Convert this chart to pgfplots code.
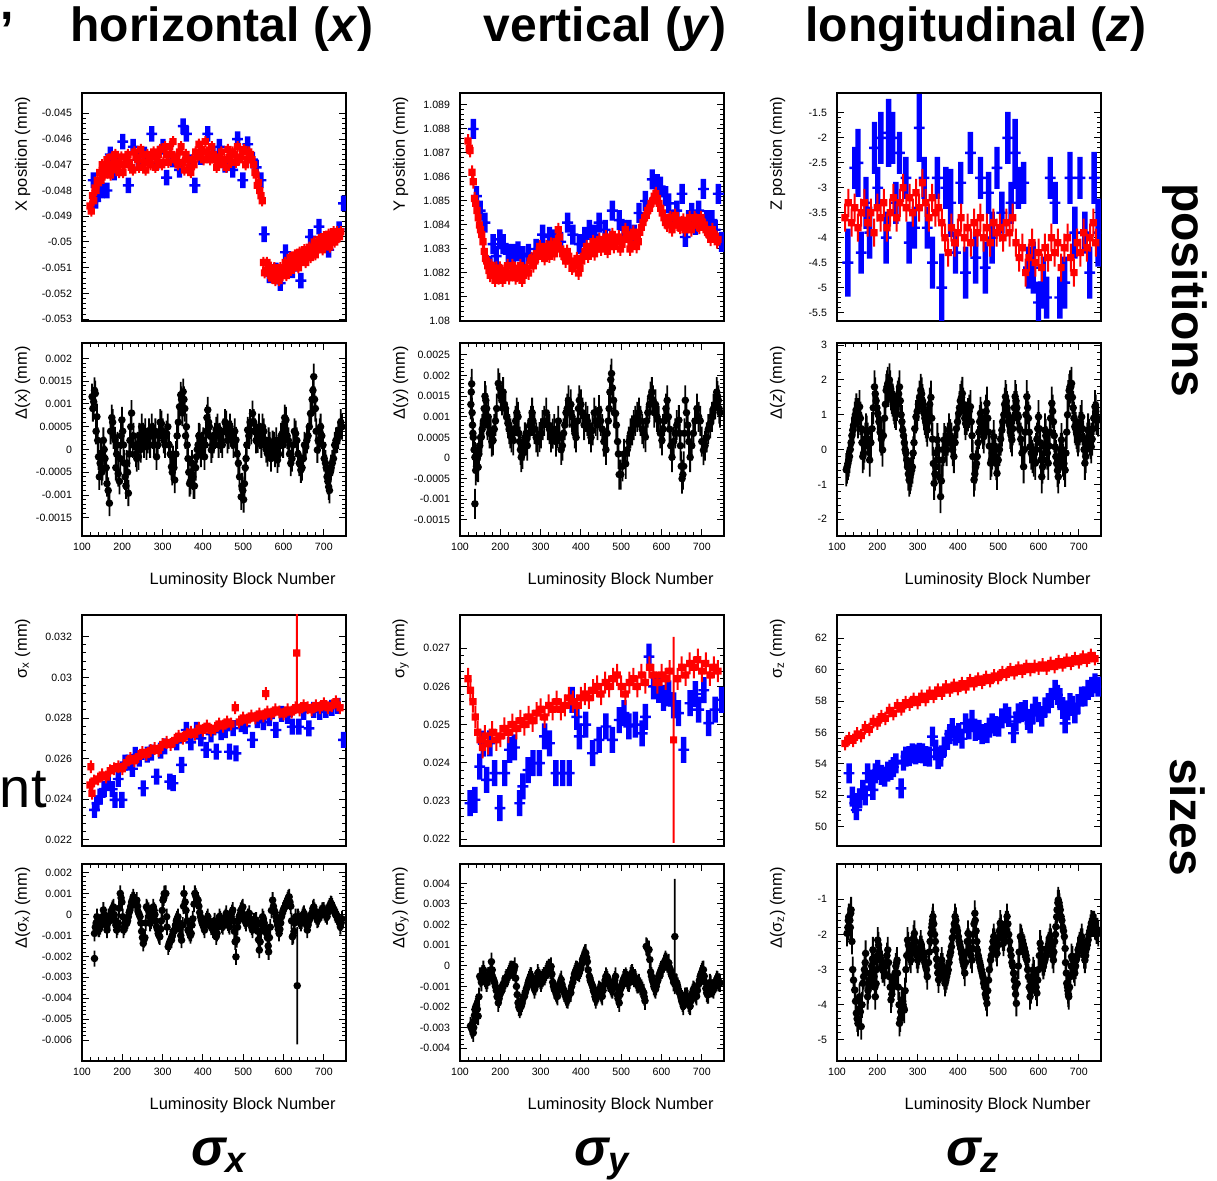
\documentclass[border=0pt]{standalone}
\usepackage{fontspec}
\setmainfont{Liberation Sans}
\usepackage{pgfplots}
\usepackage{pgfplotstable}
\pgfplotsset{compat=1.18}

% ROOT-like markers: the error bar is part of the mark, its half length is the mark size
\pgfdeclareplotmark{rsq}{%
  \pgfpathrectangle{\pgfqpoint{-0.5pt}{-\pgfplotmarksize}}{\pgfqpoint{1pt}{2\pgfplotmarksize}}%
  \pgfpathrectangle{\pgfqpoint{-1.8pt}{-1.8pt}}{\pgfqpoint{3.6pt}{3.6pt}}%
  \pgfusepathqfill}
\pgfdeclareplotmark{bpl}{%
  \pgfpathrectangle{\pgfqpoint{-1.35pt}{-\pgfplotmarksize}}{\pgfqpoint{2.7pt}{2\pgfplotmarksize}}%
  \pgfpathrectangle{\pgfqpoint{-2.7pt}{-0.6pt}}{\pgfqpoint{5.4pt}{1.2pt}}%
  \pgfusepathqfill}
\pgfdeclareplotmark{kdot}{%
  \pgfpathrectangle{\pgfqpoint{-0.45pt}{-\pgfplotmarksize}}{\pgfqpoint{0.9pt}{2\pgfplotmarksize}}%
  \pgfpathcircle{\pgfpointorigin}{1.9pt}%
  \pgfusepathqfill}

\pgfplotsset{
  rootaxis/.style={
    scale only axis, width=132pt, anchor=south west,
    xmin=100, xmax=755,
    minor y tick num=4,
    tick align=inside, major tick length=3.5pt, minor tick length=1.8pt,
    axis line style={line width=0.8pt},
    every tick/.style={black, line width=0.5pt},
    tick label style={font=\fontsize{5.3}{6}\selectfont},
    /pgf/number format/fixed, /pgf/number format/precision=4,
    /pgf/number format/assume math mode=true,
    scaled x ticks=false, scaled y ticks=false,
    clip marker paths=true,
    xticklabel pos=left,
    yticklabel style={xshift=-1.5pt},
    label style={font=\fontsize{8.2}{9}\selectfont, inner sep=0pt},
    ylabel style={at={(axis description cs:-0.225,0.985)}, anchor=east},
    xlabel style={at={(axis description cs:0.962,0)}, anchor=east, yshift=-22pt},
  },
  lumi/.style={xtick={100,200,300,400,500,600,700}, minor x tick num=4,
    xlabel={Luminosity Block Number}},
  redp/.style={only marks, mark=rsq, mark size=#1, color=red},
  bluep/.style={only marks, mark=bpl, mark size=#1, color=blue},
  blackp/.style={only marks, mark=kdot, mark size=#1, color=black},
}

% ---- X position ----
\pgfplotstableread[row sep=\\]{x y\\
120 -0.0486\\126 -0.0482\\132 -0.0479\\138 -0.0476\\144 -0.0473\\150 -0.0470\\156 -0.0474\\162 -0.0468\\168 -0.0472\\174 -0.0467\\
180 -0.0471\\186 -0.0469\\192 -0.0473\\198 -0.0467\\206 -0.0470\\214 -0.0466\\222 -0.0471\\230 -0.0465\\238 -0.0468\\246 -0.0464\\
254 -0.0469\\262 -0.0466\\270 -0.0470\\278 -0.0465\\286 -0.0468\\294 -0.0464\\302 -0.0469\\310 -0.0466\\318 -0.0463\\326 -0.0461\\
334 -0.0467\\342 -0.0465\\350 -0.0469\\358 -0.0466\\366 -0.0471\\374 -0.0468\\382 -0.0465\\390 -0.0462\\398 -0.0464\\406 -0.0461\\
414 -0.0466\\422 -0.0463\\430 -0.0468\\438 -0.0470\\446 -0.0465\\454 -0.0468\\462 -0.0464\\470 -0.0469\\478 -0.0466\\486 -0.0463\\
494 -0.0467\\502 -0.0464\\510 -0.0468\\518 -0.0466\\526 -0.0470\\532 -0.0474\\538 -0.0477\\544 -0.0482\\
550 -0.0508\\556 -0.0511\\562 -0.0509\\568 -0.0513\\574 -0.0511\\580 -0.0515\\586 -0.0512\\592 -0.0510\\598 -0.0513\\604 -0.0508\\
610 -0.0511\\616 -0.0506\\622 -0.0509\\628 -0.0505\\634 -0.0508\\640 -0.0504\\646 -0.0507\\652 -0.0503\\658 -0.0506\\664 -0.0502\\
670 -0.0505\\676 -0.0500\\682 -0.0503\\688 -0.0499\\694 -0.0502\\700 -0.0498\\706 -0.0501\\712 -0.0497\\718 -0.0500\\724 -0.0496\\
730 -0.0499\\736 -0.0497\\742 -0.0496\\
123 -0.0488\\129 -0.0484\\135 -0.0480\\141 -0.0477\\147 -0.0476\\153 -0.0472\\159 -0.0471\\165 -0.0470\\171 -0.0474\\177 -0.0470\\
183 -0.0466\\189 -0.0472\\195 -0.0470\\202 -0.0473\\210 -0.0468\\218 -0.0469\\226 -0.0472\\234 -0.0467\\242 -0.0471\\250 -0.0466\\
258 -0.0472\\266 -0.0468\\274 -0.0467\\282 -0.0471\\290 -0.0466\\298 -0.0470\\306 -0.0463\\314 -0.0469\\322 -0.0466\\330 -0.0468\\
338 -0.0470\\346 -0.0463\\354 -0.0472\\362 -0.0468\\370 -0.0473\\378 -0.0470\\386 -0.0467\\394 -0.0466\\402 -0.0468\\410 -0.0465\\
418 -0.0468\\426 -0.0466\\434 -0.0471\\442 -0.0467\\450 -0.0469\\458 -0.0471\\466 -0.0467\\474 -0.0465\\482 -0.0469\\490 -0.0468\\
498 -0.0465\\506 -0.0470\\514 -0.0465\\522 -0.0468\\529 -0.0473\\535 -0.0478\\541 -0.0480\\547 -0.0484\\
553 -0.0512\\559 -0.0508\\565 -0.0512\\571 -0.0514\\577 -0.0510\\583 -0.0513\\589 -0.0515\\595 -0.0511\\601 -0.0510\\607 -0.0513\\
613 -0.0509\\619 -0.0511\\625 -0.0508\\631 -0.0506\\637 -0.0510\\643 -0.0506\\649 -0.0504\\655 -0.0508\\661 -0.0503\\667 -0.0506\\
673 -0.0502\\679 -0.0505\\685 -0.0501\\691 -0.0500\\697 -0.0503\\703 -0.0500\\709 -0.0498\\715 -0.0502\\721 -0.0498\\727 -0.0500\\
733 -0.0496\\739 -0.0498\\
}\tXr
\pgfplotstableread[row sep=\\]{x y\\
128 -0.0476\\134 -0.0484\\140 -0.0481\\150 -0.0480\\162 -0.0480\\170 -0.0466\\180 -0.0473\\190 -0.0470\\201 -0.0461\\215 -0.0478\\
227 -0.0463\\240 -0.0468\\255 -0.0466\\273 -0.0458\\285 -0.0469\\301 -0.0463\\310 -0.0475\\325 -0.0468\\342 -0.0472\\351 -0.0455\\
359 -0.0458\\370 -0.0469\\380 -0.0478\\395 -0.0467\\412 -0.0458\\425 -0.0466\\441 -0.0463\\455 -0.0470\\474 -0.0472\\486 -0.0460\\
499 -0.0476\\511 -0.0462\\523 -0.0468\\532 -0.0471\\544 -0.0476\\552 -0.0497\\565 -0.0513\\581 -0.0511\\592 -0.0516\\605 -0.0504\\
622 -0.0511\\632 -0.0507\\643 -0.0515\\655 -0.0506\\667 -0.0498\\678 -0.0503\\688 -0.0494\\700 -0.0500\\712 -0.0503\\725 -0.0498\\
738 -0.0495\\749 -0.0485\\
}\tXb

% ---- Y position ----
\pgfplotstableread[row sep=\\]{x y\\
120 1.0875\\125 1.0871\\130 1.0862\\136 1.0851\\142 1.0846\\148 1.0840\\154 1.0836\\160 1.0829\\166 1.0825\\172 1.0821\\
178 1.0823\\184 1.0819\\190 1.0822\\196 1.0818\\202 1.0821\\210 1.0819\\218 1.0823\\226 1.0820\\234 1.0822\\242 1.0819\\
250 1.0823\\258 1.0819\\266 1.0822\\274 1.0825\\282 1.0823\\290 1.0828\\298 1.0831\\306 1.0828\\314 1.0831\\322 1.0827\\
330 1.0830\\338 1.0833\\344 1.0838\\350 1.0830\\358 1.0827\\366 1.0829\\374 1.0825\\382 1.0823\\390 1.0826\\398 1.0822\\
406 1.0827\\414 1.0831\\422 1.0829\\430 1.0833\\438 1.0830\\446 1.0834\\454 1.0832\\462 1.0835\\470 1.0831\\478 1.0836\\
486 1.0833\\494 1.0835\\502 1.0832\\510 1.0838\\518 1.0834\\526 1.0832\\534 1.0835\\542 1.0833\\550 1.0839\\558 1.0843\\
566 1.0846\\574 1.0849\\582 1.0852\\590 1.0851\\598 1.0847\\606 1.0843\\614 1.0840\\622 1.0843\\630 1.0840\\638 1.0842\\
646 1.0839\\654 1.0842\\662 1.0840\\670 1.0843\\678 1.0840\\686 1.0842\\694 1.0839\\702 1.0841\\710 1.0838\\718 1.0836\\
726 1.0838\\734 1.0835\\740 1.0834\\
123 1.0872\\133 1.0858\\139 1.0849\\145 1.0843\\151 1.0838\\157 1.0833\\163 1.0826\\169 1.0823\\175 1.0819\\181 1.0822\\
187 1.0817\\193 1.0820\\199 1.0822\\206 1.0817\\214 1.0821\\222 1.0818\\230 1.0823\\238 1.0818\\246 1.0821\\254 1.0817\\
262 1.0821\\270 1.0820\\278 1.0826\\286 1.0825\\294 1.0827\\302 1.0829\\310 1.0826\\318 1.0829\\326 1.0832\\334 1.0828\\
341 1.0831\\347 1.0835\\354 1.0828\\362 1.0825\\370 1.0827\\378 1.0822\\386 1.0824\\394 1.0820\\402 1.0825\\410 1.0829\\
418 1.0827\\426 1.0831\\434 1.0828\\442 1.0832\\450 1.0830\\458 1.0833\\466 1.0829\\474 1.0834\\482 1.0831\\490 1.0833\\
498 1.0830\\506 1.0834\\514 1.0836\\522 1.0830\\530 1.0837\\538 1.0831\\546 1.0837\\554 1.0841\\562 1.0844\\570 1.0847\\
578 1.0850\\586 1.0853\\594 1.0849\\602 1.0845\\610 1.0841\\618 1.0842\\626 1.0838\\634 1.0844\\642 1.0840\\650 1.0841\\
658 1.0838\\666 1.0841\\674 1.0838\\682 1.0843\\690 1.0840\\698 1.0843\\706 1.0840\\714 1.0837\\722 1.0834\\730 1.0836\\
738 1.0833\\
}\tYr
\pgfplotstableread[row sep=\\]{x y\\
133 1.0880\\141 1.0852\\150 1.0846\\162 1.0841\\174 1.0823\\182 1.0832\\190 1.0827\\199 1.0834\\207 1.0832\\220 1.0828\\
232 1.0828\\244 1.0829\\256 1.0827\\270 1.0828\\289 1.0830\\305 1.0836\\322 1.0835\\335 1.0834\\350 1.0833\\367 1.0841\\
380 1.0836\\396 1.0832\\410 1.0835\\421 1.0838\\433 1.0836\\445 1.0841\\460 1.0838\\478 1.0846\\495 1.0842\\507 1.0838\\
519 1.0838\\532 1.0836\\544 1.0845\\560 1.0850\\577 1.0859\\589 1.0857\\597 1.0856\\610 1.0852\\618 1.0849\\626 1.0842\\
638 1.0846\\651 1.0853\\659 1.0835\\667 1.0842\\675 1.0845\\684 1.0840\\692 1.0846\\704 1.0855\\712 1.0842\\725 1.0842\\
733 1.0838\\741 1.0853\\749 1.0833\\
}\tYb

% ---- Z position ----
\pgfplotstableread[row sep=\\]{x y\\
120 -3.6\\128 -3.3\\136 -3.7\\144 -3.4\\152 -3.8\\160 -3.5\\168 -3.3\\176 -3.7\\184 -3.5\\192 -3.9\\
200 -3.4\\208 -3.6\\216 -3.3\\224 -3.8\\232 -3.5\\240 -3.2\\248 -3.6\\256 -3.3\\264 -3.0\\272 -3.4\\
280 -3.2\\288 -3.5\\296 -3.1\\304 -3.4\\312 -2.9\\320 -3.3\\328 -3.6\\336 -3.2\\344 -3.5\\352 -3.4\\
360 -3.7\\368 -4.0\\376 -4.3\\384 -3.8\\392 -4.1\\400 -3.9\\408 -3.6\\416 -4.0\\424 -3.8\\432 -4.1\\
440 -3.7\\448 -3.9\\456 -3.6\\464 -4.0\\472 -3.8\\480 -4.1\\488 -3.7\\496 -3.9\\504 -3.8\\512 -4.0\\
520 -3.7\\528 -3.9\\536 -3.6\\544 -4.1\\552 -4.4\\560 -4.2\\568 -4.7\\576 -4.4\\584 -4.1\\592 -4.5\\
600 -4.3\\608 -4.6\\616 -4.2\\624 -4.4\\632 -4.0\\640 -4.3\\648 -4.1\\656 -4.6\\664 -4.2\\672 -4.0\\
680 -4.4\\688 -4.7\\696 -4.1\\704 -4.3\\712 -3.9\\720 -4.2\\728 -4.0\\736 -3.7\\742 -4.1\\
}\tZr
% blue z, grouped by the size of the error bar (about 0.4, 0.5 and 0.65 mm)
\pgfplotstableread[row sep=\\]{x y\\
144 -2.6\\160 -4.3\\201 -3.0\\246 -3.3\\255 -2.3\\271 -2.8\\279 -4.1\\292 -3.8\\316 -2.8\\324 -3.8\\
349 -2.8\\370 -3.0\\394 -4.3\\407 -2.9\\431 -2.3\\456 -2.8\\476 -3.1\\497 -2.6\\509 -3.5\\532 -3.3\\
550 -3.0\\563 -2.9\\575 -4.6\\600 -5.3\\620 -5.2\\629 -2.8\\641 -3.3\\653 -5.2\\703 -2.8\\715 -3.9\\
}\tZbA
\pgfplotstableread[row sep=\\]{x y\\
172 -3.3\\181 -3.9\\193 -2.2\\209 -2.0\\222 -4.0\\238 -2.0\\337 -4.5\\419 -4.7\\444 -4.4\\468 -4.6\\
485 -4.0\\524 -2.0\\587 -4.6\\612 -4.9\\665 -4.9\\678 -2.8\\690 -3.9\\727 -4.7\\738 -2.8\\
}\tZbB
\pgfplotstableread[row sep=\\]{x y\\
127 -4.5\\152 -2.5\\228 -1.9\\304 -1.8\\360 -5.0\\382 -3.3\\542 -2.3\\748 -3.9\\
}\tZbC

% ---- Delta x / y / z ----
\pgfplotstableread[row sep=\\]{x y\\
125 0.00116\\129 0.00105\\133 0.00123\\137 0.00072\\141 -0.00016\\145 -0.0003\\149 -0.0005\\153 0.0002\\157 -0.0002\\162 -0.00075\\
168 -0.00118\\174 0.0007\\178 0.0003\\182 0.00021\\186 -0.0001\\190 -0.00053\\195 -0.0002\\199 0.00065\\203 0.0001\\207 -0.0006\\
211 -0.0003\\215 -0.00096\\219 0.0002\\223 0.0008\\228 0.0003\\232 0.00006\\236 -0.0002\\240 -0.00016\\244 0.0002\\248 0.0005\\
254 0.0001\\260 0.00006\\266 0.0004\\273 0.0005\\279 0.0001\\285 -0.00016\\291 0.0003\\297 0.00057\\303 0.0002\\310 0.00035\\
316 0.0001\\322 -0.00038\\326 -0.0002\\330 -0.00067\\336 0.0003\\342 0.00094\\347 0.0011\\351 0.00127\\355 0.0009\\359 0.0005\\
363 -0.0002\\367 -0.00075\\371 -0.0005\\375 -0.0006\\379 -0.0008\\384 -0.00016\\388 0.0001\\392 0.00028\\398 0.0001\\404 -0.00016\\
408 0.0004\\412 0.00087\\416 0.0005\\421 -0.00001\\427 0.0002\\433 0.00043\\439 0.0001\\445 0.00021\\451 0.0004\\458 0.00057\\
464 0.0003\\470 0.00035\\476 0.0001\\482 0.00021\\488 -0.0003\\495 -0.00104\\499 -0.0009\\503 -0.00075\\507 -0.0002\\511 0.00043\\
517 0.0006\\523 0.00079\\529 0.0004\\536 0.00021\\542 0.0003\\548 0.0005\\554 0.0002\\560 -0.00009\\566 0.0001\\573 0.00013\\
579 -0.0001\\585 -0.00023\\591 0.0001\\597 0.00035\\601 0.0004\\606 0.00065\\612 0.0002\\618 -0.0003\\624 0.0001\\630 0.00035\\
636 -0.0001\\643 -0.00045\\649 -0.0002\\655 0.00006\\661 0.0003\\667 0.00079\\671 0.0011\\675 0.0016\\679 0.0009\\684 -0.00001\\
688 0.0002\\692 0.0005\\698 0.0001\\704 -0.0003\\708 -0.0006\\712 -0.00082\\716 -0.0005\\721 -0.0003\\727 0.0001\\733 0.00021\\
739 0.0004\\745 0.0005\\
127 0.0009\\131 0.0013\\135 0.0004\\139 0.0002\\143 -0.0006\\147 -0.0001\\151 -0.0004\\155 0.0\\160 -0.0004\\165 -0.0009\\
171 0.0004\\176 0.0006\\184 -0.0004\\188 0.0001\\193 -0.0007\\197 0.0003\\201 0.0004\\205 -0.0003\\209 -0.0008\\213 -0.0005\\
217 -0.0001\\221 0.0005\\226 0.0001\\234 -0.0001\\238 0.0001\\242 0.0003\\246 0.0\\251 0.0003\\257 0.0004\\263 0.0002\\
269 0.0001\\276 0.0003\\282 0.0004\\288 0.0001\\294 0.0006\\300 0.0004\\306 0.0001\\313 0.0005\\319 -0.0001\\324 -0.0005\\
328 -0.0004\\333 -0.0001\\339 0.0006\\345 0.0012\\349 0.0008\\353 0.0011\\357 0.0003\\361 0.0001\\365 -0.0005\\369 -0.0007\\
373 -0.0003\\377 -0.0008\\382 -0.0004\\386 0.0\\390 0.0003\\395 -0.0001\\401 0.0002\\406 0.0001\\410 0.0007\\414 0.0006\\
418 0.0003\\424 0.0001\\430 0.0003\\436 0.0005\\442 0.0003\\448 0.0001\\455 0.0006\\461 0.0002\\467 0.0005\\473 0.0003\\
479 0.0004\\485 -0.0001\\491 -0.0006\\497 -0.0008\\501 -0.0011\\505 -0.0004\\509 0.0001\\514 0.0003\\520 0.0004\\526 0.0006\\
532 0.0002\\539 0.0005\\545 0.0001\\551 0.0004\\557 0.0\\563 0.0002\\569 -0.0002\\576 0.0001\\582 0.0002\\588 -0.0001\\
594 0.0003\\599 0.0001\\603 0.0007\\609 0.0003\\615 -0.0001\\621 -0.0002\\627 0.0004\\633 0.0002\\639 -0.0003\\646 -0.0004\\
652 0.0001\\658 0.0002\\664 0.0005\\669 0.0008\\673 0.0013\\677 0.0011\\681 0.0004\\686 0.0002\\690 0.0004\\695 0.0003\\
701 -0.0002\\706 -0.0004\\710 -0.0007\\714 -0.0009\\718 -0.0004\\724 -0.0002\\730 0.0002\\736 0.0003\\742 0.0006\\
}\tDx
\pgfplotstableread[row sep=\\]{x y\\
127 0.0013\\129 0.0018\\131 0.0008\\133 0.0005\\137 0.00002\\141 -0.0002\\145 -0.00022\\149 0.0003\\153 0.00051\\158 0.0009\\
162 0.0015\\166 0.0012\\170 0.0010\\176 0.0006\\182 0.00043\\188 0.0009\\195 0.00181\\201 0.0015\\207 0.0016\\213 0.0012\\
219 0.00084\\225 0.0006\\232 0.00043\\238 0.0009\\244 0.0010\\248 0.0004\\252 0.00002\\258 0.0003\\264 0.00043\\270 0.0006\\
276 0.0009\\281 0.0009\\289 0.0005\\297 0.00051\\305 0.0008\\314 0.0011\\322 0.0007\\330 0.00059\\338 0.0004\\344 0.0009\\
351 0.0002\\357 0.0006\\363 0.0011\\369 0.0014\\375 0.0013\\382 0.0008\\388 0.0005\\392 0.0009\\396 0.0014\\404 0.0011\\
412 0.0010\\420 0.0007\\429 0.00067\\437 0.0009\\445 0.00116\\453 0.0007\\462 0.0002\\468 0.0009\\472 0.0016\\476 0.00205\\
481 0.0014\\486 0.00108\\491 0.0004\\495 -0.0004\\503 -0.0002\\511 -0.00014\\519 0.0004\\527 0.00067\\535 0.0009\\544 0.0011\\
552 0.0007\\560 0.00051\\566 0.0011\\573 0.00149\\579 0.0014\\585 0.0013\\593 0.0009\\601 0.00043\\607 0.0009\\614 0.0014\\
620 0.0007\\626 0.00002\\634 0.0006\\643 0.00092\\647 0.0003\\651 -0.0005\\655 -0.0002\\659 0.0014\\665 0.0008\\671 0.00002\\
679 0.0006\\688 0.0012\\696 0.0009\\704 0.00019\\712 0.0005\\721 0.00084\\729 0.0012\\737 0.0016\\741 0.0014\\745 0.0011\\
137 -0.00111\\
128 0.0016\\130 0.0011\\132 0.0006\\135 0.0002\\139 -0.0003\\143 0.0\\147 0.0001\\151 0.0005\\155 0.0007\\160 0.0012\\
164 0.0014\\168 0.0008\\173 0.0006\\179 0.0004\\185 0.0007\\191 0.0012\\198 0.0017\\204 0.0014\\210 0.0013\\216 0.0010\\
222 0.0007\\228 0.0005\\235 0.0007\\241 0.0011\\246 0.0006\\250 0.0002\\255 0.0001\\261 0.0005\\267 0.0003\\273 0.0008\\
279 0.0011\\285 0.0007\\293 0.0004\\301 0.0006\\309 0.0009\\318 0.0008\\326 0.0005\\334 0.0007\\341 0.0006\\347 0.0005\\
354 0.0003\\360 0.0008\\366 0.0012\\372 0.0011\\378 0.0010\\385 0.0006\\394 0.0012\\400 0.0013\\408 0.0008\\416 0.0009\\
425 0.0005\\433 0.0011\\441 0.0008\\449 0.0009\\457 0.0004\\465 0.0006\\470 0.0012\\474 0.0019\\478 0.0017\\483 0.0011\\
488 0.0008\\493 0.0001\\499 -0.0004\\507 0.0001\\515 0.0002\\523 0.0006\\531 0.0008\\540 0.0010\\548 0.0009\\556 0.0006\\
563 0.0009\\570 0.0013\\576 0.0016\\582 0.0011\\589 0.0010\\597 0.0006\\604 0.0007\\611 0.0012\\617 0.0010\\623 0.0003\\
630 0.0004\\638 0.0008\\645 0.0006\\649 -0.0002\\653 -0.0004\\657 0.0006\\662 0.0011\\668 0.0004\\675 0.0003\\683 0.0009\\
692 0.0010\\700 0.0004\\708 0.0003\\716 0.0007\\725 0.0010\\733 0.0013\\739 0.0015\\743 0.0012\\
}\tDy
\pgfplotstableread[row sep=\\]{x y\\
123 -0.58\\127 -0.4\\131 -0.2\\135 0.2\\139 0.56\\144 0.9\\148 1.14\\152 0.8\\156 1.23\\160 0.6\\
164 -0.2\\168 0.1\\172 0.56\\176 0.3\\181 -0.3\\187 0.6\\193 1.8\\197 1.4\\201 1.04\\207 0.5\\
213 -0.01\\218 0.9\\222 1.7\\226 1.9\\230 2.0\\234 1.6\\238 1.42\\242 1.2\\246 1.04\\251 1.5\\
255 1.8\\259 1.0\\263 0.56\\267 0.2\\271 -0.1\\275 -0.5\\279 -0.87\\283 -0.7\\287 -0.5\\291 0.2\\
296 0.94\\302 1.3\\308 1.7\\312 1.4\\316 1.04\\320 0.8\\324 0.56\\328 1.0\\333 1.5\\337 0.3\\
341 -0.97\\345 -0.5\\349 0.28\\353 -0.3\\357 -1.35\\362 -0.3\\366 0.28\\372 0.0\\378 0.56\\384 0.3\\
390 -0.2\\396 0.6\\402 1.04\\406 1.4\\411 1.61\\415 1.1\\419 0.75\\425 1.0\\431 1.23\\435 0.4\\
440 -0.87\\444 -0.5\\448 -0.2\\452 0.5\\456 1.04\\460 0.7\\464 0.37\\468 0.9\\472 1.33\\476 0.5\\
481 -0.39\\485 -0.1\\489 0.37\\493 -0.2\\497 -0.68\\503 0.0\\509 0.56\\514 1.0\\518 1.52\\522 1.2\\
526 0.94\\530 0.5\\534 0.28\\538 0.9\\542 1.52\\546 1.2\\550 0.94\\556 0.3\\563 -0.49\\567 0.5\\
571 1.52\\575 0.9\\579 0.08\\585 -0.2\\592 -0.39\\596 0.3\\600 0.94\\604 0.2\\608 -0.78\\612 -0.3\\
616 0.56\\620 0.2\\624 -0.39\\628 0.5\\633 1.33\\637 0.8\\641 0.08\\645 -0.4\\649 -0.78\\653 -0.2\\
657 0.28\\661 -0.3\\666 -0.59\\670 0.5\\674 1.52\\678 1.8\\682 1.9\\686 1.2\\690 0.66\\694 0.5\\
698 0.28\\702 0.6\\707 0.94\\711 0.3\\715 -0.39\\719 0.1\\723 0.56\\727 0.3\\731 0.08\\735 0.6\\
740 1.23\\744 0.9\\748 0.85\\
125 -0.5\\129 -0.3\\133 0.0\\137 0.4\\141 0.7\\146 1.0\\150 1.0\\154 1.0\\158 0.9\\162 0.2\\
166 -0.1\\170 0.3\\174 0.5\\178 0.1\\184 0.2\\190 1.2\\195 1.6\\199 1.2\\204 0.8\\210 0.3\\
215 0.4\\220 1.3\\224 1.8\\228 1.7\\232 1.8\\236 1.5\\240 1.3\\244 1.1\\249 1.3\\253 1.6\\
257 1.4\\261 0.8\\265 0.4\\269 0.0\\273 -0.3\\277 -0.7\\281 -0.8\\285 -0.6\\289 -0.1\\293 0.6\\
299 1.1\\305 1.5\\310 1.6\\314 1.2\\318 0.9\\322 0.7\\326 0.8\\330 1.3\\335 0.9\\339 -0.4\\
343 -0.7\\347 -0.1\\351 0.0\\355 -0.8\\359 -0.9\\364 0.0\\369 0.2\\375 0.3\\381 0.4\\387 0.0\\
393 0.2\\399 0.8\\404 1.2\\409 1.5\\413 1.3\\417 0.9\\422 0.9\\428 1.1\\433 0.8\\437 -0.2\\
442 -0.7\\446 -0.4\\450 0.2\\454 0.8\\458 0.9\\462 0.5\\466 0.6\\470 1.1\\474 0.9\\478 0.1\\
483 -0.3\\487 0.1\\491 0.1\\495 -0.4\\500 -0.3\\506 0.3\\511 0.8\\516 1.3\\520 1.4\\524 1.0\\
528 0.7\\532 0.4\\536 0.6\\540 1.2\\544 1.4\\548 1.0\\553 0.6\\559 -0.1\\565 0.0\\569 1.0\\
573 1.2\\577 0.5\\582 -0.1\\588 -0.3\\594 0.0\\598 0.6\\602 0.6\\606 -0.3\\610 -0.5\\614 0.1\\
618 0.4\\622 -0.1\\626 0.1\\630 0.9\\635 1.1\\639 0.4\\643 -0.2\\647 -0.6\\651 -0.5\\655 0.0\\
659 0.0\\663 -0.4\\668 -0.1\\672 1.0\\676 1.7\\680 1.8\\684 1.5\\688 0.9\\692 0.6\\696 0.4\\
700 0.4\\704 0.8\\709 0.6\\713 0.0\\717 -0.2\\721 0.3\\725 0.4\\729 0.2\\733 0.3\\737 0.9\\
742 1.1\\746 0.9\\
}\tDz

% ---- sigma x / y / z ----
\pgfplotstableread[row sep=\\]{x y\\
120 0.0247\\122 0.0256\\125 0.0243\\130 0.0249\\140 0.0250\\150 0.0252\\160 0.0251\\170 0.0254\\180 0.0255\\190 0.0256\\
200 0.0255\\210 0.0258\\220 0.0260\\230 0.0259\\240 0.0261\\250 0.0263\\260 0.0262\\270 0.0264\\280 0.0265\\290 0.0264\\
300 0.0267\\310 0.0268\\320 0.0267\\330 0.0269\\340 0.0271\\350 0.0270\\360 0.0272\\370 0.0273\\380 0.0272\\390 0.0275\\
400 0.0274\\410 0.0276\\420 0.0274\\430 0.0275\\440 0.0277\\450 0.0276\\460 0.0278\\470 0.0277\\480 0.0285\\490 0.0278\\
500 0.0280\\510 0.0279\\520 0.0281\\530 0.0280\\540 0.0282\\550 0.0281\\556 0.0292\\560 0.0283\\570 0.0282\\580 0.0284\\
590 0.0283\\600 0.0282\\610 0.0284\\620 0.0283\\630 0.0285\\640 0.0284\\650 0.0286\\660 0.0285\\670 0.0284\\680 0.0286\\
690 0.0285\\700 0.0287\\710 0.0285\\720 0.0286\\730 0.0288\\740 0.0285\\
}\tSXr
\pgfplotstableread[row sep=\\]{x y\\
131 0.02348\\137 0.0238\\145 0.02413\\155 0.0245\\165 0.0248\\175 0.0245\\182 0.02397\\190 0.0250\\199 0.02397\\207 0.0258\\
215 0.0258\\225 0.0255\\232 0.02618\\242 0.0260\\252 0.02454\\262 0.0262\\272 0.0263\\285 0.02511\\295 0.0264\\305 0.0266\\
318 0.02487\\326 0.02479\\335 0.0268\\347 0.02569\\359 0.02741\\370 0.0268\\384 0.02741\\395 0.0270\\408 0.02643\\420 0.0272\\
433 0.02634\\445 0.0273\\455 0.0274\\466 0.02634\\475 0.0275\\482 0.02626\\495 0.0277\\505 0.0276\\523 0.02692\\535 0.0279\\
550 0.0278\\565 0.0280\\581 0.02741\\595 0.0282\\610 0.0281\\622 0.02757\\638 0.02757\\650 0.0283\\663 0.02749\\675 0.0284\\
690 0.0283\\705 0.0284\\720 0.0285\\735 0.0286\\749 0.02692\\
}\tSXb
\pgfplotstableread[row sep=\\]{x y\\
120 0.0262\\126 0.0259\\132 0.0256\\138 0.0252\\144 0.0248\\150 0.0246\\156 0.0244\\162 0.0247\\170 0.0245\\180 0.0248\\
190 0.0246\\200 0.0247\\210 0.0249\\220 0.0248\\230 0.0250\\240 0.0249\\250 0.0251\\260 0.0250\\270 0.0252\\280 0.0251\\
290 0.0253\\300 0.0254\\310 0.0252\\320 0.0255\\330 0.0254\\340 0.0256\\350 0.0254\\360 0.0255\\370 0.0257\\380 0.0256\\
390 0.0255\\400 0.0257\\410 0.0258\\420 0.0257\\430 0.0259\\440 0.0260\\450 0.0258\\460 0.0261\\470 0.0260\\480 0.0262\\
490 0.0263\\500 0.0260\\510 0.0258\\520 0.0261\\530 0.0262\\540 0.0260\\550 0.0263\\560 0.0261\\570 0.0265\\580 0.0263\\
590 0.0261\\600 0.0263\\610 0.0262\\620 0.0264\\640 0.0262\\650 0.0265\\660 0.0263\\670 0.0266\\680 0.0265\\690 0.0267\\
700 0.0264\\710 0.0266\\720 0.0263\\730 0.0265\\740 0.0264\\
}\tSYr
\pgfplotstableread[row sep=\\]{x y\\
125 0.02294\\137 0.02303\\149 0.0239\\158 0.0245\\166 0.02355\\174 0.02451\\186 0.02373\\199 0.02281\\211 0.02373\\223 0.02434\\
235 0.0244\\248 0.02294\\256 0.02338\\269 0.02381\\281 0.02399\\297 0.02399\\310 0.02469\\322 0.02451\\338 0.02373\\355 0.02373\\
371 0.02373\\378 0.02565\\390 0.0252\\396 0.02469\\412 0.0250\\429 0.02425\\445 0.0246\\462 0.02495\\478 0.0246\\495 0.02512\\
507 0.0253\\519 0.02495\\535 0.0250\\552 0.02477\\560 0.0252\\569 0.02678\\580 0.0260\\593 0.02591\\605 0.0257\\618 0.02582\\
630 0.0255\\642 0.0253\\655 0.02434\\671 0.02556\\684 0.0258\\692 0.02539\\705 0.0259\\717 0.02504\\733 0.02539\\749 0.02565\\
}\tSYb
\pgfplotstableread[row sep=\\]{x y\\
120 55.3\\130 55.6\\140 55.5\\150 55.9\\160 55.8\\170 56.3\\180 56.2\\190 56.7\\200 56.6\\210 57.0\\
220 56.9\\230 57.4\\240 57.2\\250 57.7\\260 57.5\\270 57.9\\280 57.8\\290 58.1\\300 57.9\\310 58.3\\
320 58.1\\330 58.5\\340 58.3\\350 58.7\\360 58.5\\370 58.9\\380 58.7\\390 59.0\\400 58.8\\410 59.1\\
420 58.9\\430 59.3\\440 59.1\\450 59.4\\460 59.2\\470 59.5\\480 59.3\\490 59.6\\500 59.5\\510 59.8\\
520 59.7\\530 60.0\\540 59.8\\550 60.1\\560 59.9\\570 60.2\\580 60.0\\590 60.2\\600 60.1\\610 60.3\\
620 60.1\\630 60.4\\640 60.2\\650 60.5\\660 60.3\\670 60.6\\680 60.4\\690 60.7\\700 60.5\\710 60.8\\
720 60.6\\730 60.9\\740 60.7\\
}\tSZr
\pgfplotstableread[row sep=\\]{x y\\
130 53.40\\138 51.91\\144 51.5\\148 51.06\\156 51.8\\164 52.34\\170 52.0\\176 53.40\\183 53.0\\189 52.34\\
195 53.4\\201 53.61\\210 53.3\\218 53.19\\226 53.5\\234 53.61\\240 53.8\\246 54.03\\259 52.44\\265 54.2\\
271 54.46\\279 54.5\\287 54.67\\295 54.6\\304 54.7\\312 54.67\\320 54.5\\329 54.46\\337 55.73\\345 54.9\\
351 54.3\\357 54.46\\366 55.1\\374 55.52\\380 55.9\\386 56.27\\394 55.8\\402 55.95\\410 55.6\\419 56.58\\
427 56.2\\435 56.80\\443 56.1\\452 56.16\\460 55.9\\472 55.95\\478 56.3\\485 56.58\\493 56.4\\501 56.37\\
509 56.9\\518 57.22\\526 57.0\\538 55.95\\544 56.7\\550 57.22\\558 57.3\\567 57.43\\573 56.8\\579 56.58\\
586 57.2\\592 57.65\\600 57.3\\608 57.01\\616 57.6\\624 57.86\\632 58.2\\641 58.71\\647 58.4\\653 58.18\\
660 57.5\\666 56.58\\672 57.4\\678 57.86\\684 57.7\\690 57.22\\698 57.8\\707 58.28\\715 58.3\\723 58.71\\
732 58.9\\740 59.13\\748 58.92\\
}\tSZb

% ---- Delta sigma x / y / z ----
\pgfplotstableread[row sep=\\]{x y\\
131 -0.0021\\131 -0.0009\\135 -0.0004\\137 -0.0001\\141 -0.0007\\145 -0.00058\\149 -0.0002\\153 0.00022\\158 -0.0003\\162 -0.00074\\
166 -0.0001\\170 -0.0001\\174 0.0002\\178 0.00037\\182 -0.0003\\186 -0.00074\\190 -0.0004\\195 0.00101\\199 0.0006\\203 -0.00074\\
207 -0.0005\\211 -0.00042\\215 -0.0001\\219 0.00022\\223 0.0006\\227 0.00085\\232 0.0005\\236 0.00069\\240 0.0001\\244 -0.0001\\
248 -0.0008\\252 -0.00138\\256 -0.0011\\260 0.00037\\265 0.0002\\269 -0.00042\\273 -0.0001\\277 0.00037\\281 0.0\\285 -0.00058\\
289 -0.0009\\293 -0.00106\\297 -0.0003\\301 0.00069\\304 0.0010\\308 0.00101\\311 -0.0006\\314 -0.00154\\318 -0.0013\\322 -0.00122\\
326 -0.0008\\330 -0.00074\\334 -0.0003\\338 -0.0001\\343 -0.0007\\347 -0.00122\\350 -0.0005\\353 0.00101\\358 0.0002\\363 -0.00074\\
367 -0.0009\\371 -0.0009\\375 -0.0002\\380 0.00101\\384 0.0008\\388 0.00069\\392 0.0001\\396 -0.00026\\400 -0.0005\\404 -0.00074\\
408 -0.0003\\412 -0.0001\\418 -0.0004\\425 -0.00074\\429 -0.0003\\433 -0.00106\\437 -0.0006\\441 -0.0001\\445 -0.0003\\449 -0.00058\\
454 -0.0002\\458 0.00006\\462 -0.0004\\466 -0.00058\\470 -0.0001\\474 0.00022\\478 -0.0008\\482 -0.00202\\486 -0.0006\\490 -0.0001\\
494 0.0002\\499 0.00037\\503 -0.0002\\507 -0.00042\\511 -0.0001\\515 0.00006\\519 -0.0004\\523 -0.00074\\527 -0.0003\\532 -0.00026\\
536 -0.0008\\540 -0.0017\\544 -0.0008\\548 -0.0001\\552 -0.0004\\556 -0.00074\\560 -0.0011\\563 -0.00178\\567 -0.0006\\573 0.00069\\
577 0.0002\\581 -0.0001\\585 -0.0005\\589 -0.0009\\593 -0.0004\\597 0.00006\\601 0.0003\\606 0.00053\\610 0.0007\\614 0.00085\\
618 0.0004\\622 -0.00106\\626 -0.0008\\630 -0.0001\\638 -0.0002\\643 -0.00042\\647 -0.0001\\651 0.00006\\655 -0.0003\\659 -0.00074\\
663 -0.0003\\667 -0.0001\\671 0.0001\\675 0.00037\\679 0.0\\684 -0.00026\\688 -0.0001\\692 0.00006\\696 0.0002\\700 0.00022\\
704 0.0\\708 -0.0001\\712 0.0003\\717 0.00053\\721 0.0004\\725 0.00022\\729 0.0\\733 -0.0001\\737 -0.0003\\741 -0.00058\\
745 -0.0002\\
133 -0.0006\\139 -0.0004\\143 -0.0007\\147 -0.0004\\151 -0.0001\\156 0.0\\160 -0.0005\\164 -0.0004\\168 -0.0003\\172 0.0\\
176 0.0003\\180 0.0\\184 -0.0005\\188 -0.0006\\192 0.0003\\197 0.0008\\201 -0.0001\\205 -0.0006\\209 -0.0004\\213 -0.0003\\
217 0.0001\\221 0.0004\\225 0.0007\\229 0.0007\\234 0.0006\\238 0.0004\\242 0.0\\246 -0.0004\\250 -0.0011\\254 -0.0012\\
258 -0.0004\\262 0.0003\\267 -0.0001\\271 -0.0003\\275 0.0001\\279 0.0002\\283 -0.0003\\287 -0.0007\\291 -0.0010\\295 -0.0007\\
299 0.0002\\303 0.0008\\306 0.0010\\310 -0.0001\\316 -0.0014\\320 -0.0012\\324 -0.0010\\328 -0.0008\\332 -0.0005\\336 -0.0002\\
341 -0.0004\\345 -0.0010\\352 0.0004\\356 0.0006\\361 -0.0003\\365 -0.0008\\369 -0.0010\\373 -0.0005\\378 0.0005\\382 0.0009\\
386 0.0007\\390 0.0004\\394 -0.0001\\398 -0.0004\\402 -0.0006\\406 -0.0005\\410 -0.0002\\415 -0.0003\\421 -0.0006\\427 -0.0005\\
431 -0.0008\\435 -0.0009\\439 -0.0003\\443 -0.0002\\447 -0.0005\\451 -0.0004\\456 -0.0001\\460 -0.0002\\464 -0.0005\\468 -0.0003\\
472 0.0001\\476 -0.0003\\480 -0.0013\\484 -0.0012\\488 -0.0003\\492 0.0\\497 0.0003\\501 0.0\\505 -0.0003\\509 -0.0002\\
513 -0.0001\\517 -0.0002\\521 -0.0006\\525 -0.0005\\530 -0.0003\\534 -0.0005\\538 -0.0012\\542 -0.0013\\546 -0.0004\\550 -0.0002\\
554 -0.0006\\558 -0.0009\\562 -0.0015\\565 -0.0011\\570 0.0002\\575 0.0004\\579 0.0001\\583 -0.0003\\587 -0.0007\\591 -0.0007\\
595 -0.0001\\599 0.0002\\604 0.0004\\608 0.0006\\612 0.0008\\616 0.0006\\620 -0.0003\\624 -0.0010\\628 -0.0004\\636 -0.0001\\
640 -0.0003\\645 -0.0003\\649 0.0\\653 -0.0001\\657 -0.0005\\661 -0.0005\\665 -0.0002\\669 0.0\\673 0.0003\\677 0.0002\\
681 -0.0001\\686 -0.0002\\690 0.0\\694 0.0001\\698 0.0002\\702 0.0001\\706 0.0\\710 0.0001\\714 0.0004\\719 0.0005\\
723 0.0003\\727 0.0001\\731 0.0\\735 -0.0002\\739 -0.0004\\743 -0.0004\\
}\tDSx
\pgfplotstableread[row sep=\\]{x y\\
126 -0.00292\\130 -0.0031\\133 -0.00325\\135 -0.0027\\137 -0.00212\\141 -0.0019\\145 -0.00244\\149 -0.00051\\153 -0.0008\\158 -0.00019\\
162 -0.0006\\166 -0.00083\\170 -0.0005\\174 -0.00051\\178 0.0002\\182 -0.0006\\186 -0.00083\\190 -0.0012\\195 -0.0018\\199 -0.0014\\
203 -0.00115\\207 -0.0009\\211 -0.00083\\215 -0.0006\\219 -0.00051\\223 -0.0003\\227 -0.00019\\232 -0.0003\\236 -0.00003\\240 -0.001\\
244 -0.0018\\248 -0.0021\\252 -0.00196\\256 -0.0016\\260 -0.00148\\265 -0.0011\\269 -0.00083\\273 -0.0006\\277 -0.00051\\281 -0.0009\\
285 -0.00115\\289 -0.0008\\293 -0.00035\\297 -0.0006\\301 -0.00083\\305 -0.0006\\310 -0.00051\\314 -0.0003\\318 -0.00019\\322 -0.0001\\
326 -0.00003\\330 -0.0008\\334 -0.00115\\338 -0.0013\\342 -0.00148\\347 -0.0009\\351 -0.00067\\355 -0.0011\\359 -0.00131\\363 -0.0015\\
367 -0.00164\\371 -0.0014\\375 -0.00131\\380 -0.0008\\384 -0.0004\\388 -0.00019\\392 -0.0003\\396 -0.00035\\400 -0.0001\\404 0.0003\\
408 0.0005\\412 0.00062\\416 0.0002\\421 -0.00051\\425 -0.0008\\429 -0.00099\\433 -0.0013\\437 -0.00164\\441 -0.0014\\445 -0.00115\\
449 -0.0013\\453 -0.00148\\458 -0.0009\\462 -0.00051\\466 -0.0007\\470 -0.00083\\474 -0.001\\478 -0.00115\\482 -0.0008\\486 -0.00051\\
490 -0.0014\\495 -0.0018\\499 -0.0011\\503 -0.00083\\507 -0.0006\\511 -0.00051\\515 -0.0007\\519 -0.00083\\523 -0.0005\\527 -0.00035\\
532 -0.0006\\536 -0.00067\\540 -0.0009\\544 -0.00083\\550 -0.0011\\556 -0.00131\\559 -0.0017\\562 0.00094\\566 0.0008\\569 0.00078\\
573 -0.0003\\577 -0.00067\\581 -0.001\\585 -0.00115\\589 -0.0008\\593 -0.00051\\597 -0.0003\\601 -0.00019\\606 0.0001\\610 0.0003\\
614 0.0001\\618 0.00014\\622 -0.0002\\626 -0.00051\\630 -0.0008\\638 -0.00083\\642 -0.0012\\646 -0.00131\\650 -0.0017\\654 -0.00196\\
658 -0.0015\\663 -0.00148\\667 -0.0018\\671 -0.00196\\675 -0.0014\\679 -0.00115\\683 -0.0013\\687 -0.00148\\692 -0.0009\\696 -0.00051\\
700 -0.0003\\704 -0.00019\\708 -0.0008\\712 -0.00131\\716 -0.0014\\720 -0.00083\\725 -0.0011\\729 -0.00115\\733 -0.0009\\737 -0.00067\\
741 -0.0008\\745 -0.00083\\
128 -0.0030\\131 -0.0028\\134 -0.0030\\136 -0.0024\\139 -0.0020\\143 -0.0021\\147 -0.0015\\151 -0.0006\\155 -0.0004\\160 -0.0004\\
164 -0.0007\\168 -0.0007\\172 -0.0005\\176 -0.0002\\180 -0.0002\\184 -0.0007\\188 -0.0010\\192 -0.0015\\197 -0.0016\\201 -0.0013\\
205 -0.0010\\209 -0.0009\\213 -0.0007\\217 -0.0006\\221 -0.0004\\225 -0.0002\\230 -0.0002\\234 -0.0002\\238 -0.0006\\242 -0.0014\\
246 -0.0020\\250 -0.0020\\254 -0.0018\\258 -0.0015\\262 -0.0013\\267 -0.0010\\271 -0.0007\\275 -0.0005\\279 -0.0007\\283 -0.0010\\
287 -0.0010\\291 -0.0006\\295 -0.0005\\299 -0.0007\\303 -0.0007\\308 -0.0005\\312 -0.0004\\316 -0.0002\\320 -0.0001\\324 -0.0002\\
328 -0.0004\\332 -0.0010\\336 -0.0012\\340 -0.0014\\344 -0.0012\\349 -0.0008\\353 -0.0009\\357 -0.0012\\361 -0.0014\\365 -0.0016\\
369 -0.0015\\373 -0.0013\\377 -0.0010\\382 -0.0006\\386 -0.0003\\390 -0.0002\\394 -0.0003\\398 -0.0002\\402 0.0001\\406 0.0004\\
410 0.0006\\414 0.0004\\418 -0.0002\\423 -0.0007\\427 -0.0009\\431 -0.0012\\435 -0.0015\\439 -0.0015\\443 -0.0013\\447 -0.0012\\
451 -0.0014\\455 -0.0012\\460 -0.0007\\464 -0.0006\\468 -0.0008\\472 -0.0009\\476 -0.0011\\480 -0.0010\\484 -0.0007\\488 -0.0010\\
492 -0.0016\\497 -0.0014\\501 -0.0010\\505 -0.0007\\509 -0.0006\\513 -0.0006\\517 -0.0008\\521 -0.0007\\525 -0.0004\\529 -0.0005\\
534 -0.0006\\538 -0.0008\\542 -0.0009\\547 -0.0010\\553 -0.0012\\557 -0.0015\\564 0.0009\\571 0.0003\\575 -0.0005\\579 -0.0008\\
583 -0.0011\\587 -0.0010\\591 -0.0007\\595 -0.0004\\599 -0.0002\\603 -0.0001\\608 0.0002\\612 0.0002\\616 0.0001\\620 -0.0001\\
624 -0.0004\\628 -0.0006\\636 -0.0008\\640 -0.0010\\644 -0.0013\\648 -0.0015\\652 -0.0018\\656 -0.0017\\660 -0.0015\\665 -0.0016\\
669 -0.0019\\673 -0.0017\\677 -0.0013\\681 -0.0012\\685 -0.0014\\689 -0.0012\\694 -0.0007\\698 -0.0004\\702 -0.0002\\706 -0.0005\\
710 -0.0011\\714 -0.0014\\718 -0.0011\\722 -0.0009\\727 -0.0011\\731 -0.0010\\735 -0.0008\\739 -0.0007\\743 -0.0008\\
}\tDSy
\pgfplotstableread[row sep=\\]{x y\\
125 -1.97\\128 -1.6\\130 -1.49\\133 -1.8\\135 -1.30\\139 -3.0\\144 -3.58\\148 -4.24\\152 -4.53\\156 -3.77\\
160 -4.62\\164 -3.39\\168 -3.0\\171 -2.54\\176 -3.77\\179 -3.5\\182 -3.29\\186 -2.9\\189 -2.44\\192 -3.2\\
195 -3.77\\198 -3.0\\201 -2.16\\205 -2.5\\209 -2.73\\213 -3.0\\218 -3.10\\222 -2.8\\226 -2.44\\230 -3.2\\
234 -3.86\\238 -3.5\\242 -3.29\\246 -2.9\\249 -2.73\\252 -3.5\\255 -4.53\\258 -4.2\\261 -3.86\\264 -4.0\\
267 -4.15\\271 -3.0\\275 -2.16\\279 -2.5\\283 -2.73\\288 -2.3\\292 -1.97\\296 -2.4\\300 -2.73\\304 -2.5\\
308 -2.25\\312 -2.5\\316 -2.63\\320 -2.9\\324 -3.20\\329 -2.5\\333 -1.97\\336 -1.7\\338 -1.49\\342 -2.0\\
345 -2.44\\349 -2.9\\352 -3.29\\356 -3.0\\360 -2.73\\364 -3.1\\368 -3.39\\372 -3.2\\376 -3.01\\380 -2.6\\
384 -2.35\\389 -1.9\\393 -1.49\\397 -1.8\\401 -2.06\\405 -2.3\\409 -2.54\\413 -2.8\\417 -3.10\\421 -2.5\\
425 -1.97\\430 -2.4\\435 -2.73\\438 -2.0\\442 -1.40\\445 -1.9\\448 -2.44\\452 -2.7\\456 -2.91\\460 -3.1\\
464 -3.39\\468 -3.7\\472 -3.96\\476 -3.3\\481 -2.73\\485 -2.4\\489 -2.06\\493 -2.3\\497 -2.54\\501 -2.1\\
505 -1.68\\509 -2.0\\513 -2.25\\517 -1.9\\522 -1.49\\526 -2.0\\530 -2.44\\534 -2.8\\538 -3.10\\542 -3.5\\
545 -3.96\\550 -2.9\\555 -2.06\\559 -2.2\\563 -2.35\\567 -2.5\\571 -2.73\\575 -3.2\\579 -3.77\\583 -3.4\\
587 -3.01\\592 -3.3\\596 -3.67\\600 -3.0\\604 -2.25\\608 -2.6\\612 -2.91\\616 -2.7\\620 -2.44\\625 -2.3\\
629 -2.06\\633 -2.4\\637 -2.73\\640 -2.2\\643 -1.78\\646 -1.3\\649 -1.02\\652 -1.2\\656 -1.49\\660 -1.8\\
664 -2.06\\667 -2.8\\670 -3.39\\673 -3.6\\675 -3.77\\679 -3.2\\682 -2.63\\686 -2.9\\690 -3.10\\694 -2.7\\
698 -2.44\\702 -2.3\\707 -2.06\\711 -2.4\\715 -2.73\\719 -2.4\\723 -2.16\\727 -1.9\\731 -1.68\\735 -1.7\\
740 -1.78\\744 -1.9\\748 -1.97\\
127 -1.8\\129 -1.5\\132 -1.6\\134 -1.4\\137 -2.2\\141 -3.3\\146 -3.9\\150 -4.4\\154 -4.2\\158 -4.2\\
162 -4.0\\166 -3.2\\170 -2.8\\173 -3.1\\177 -3.6\\181 -3.4\\184 -3.1\\188 -2.7\\190 -2.8\\194 -3.5\\
197 -3.4\\200 -2.6\\203 -2.3\\207 -2.6\\211 -2.9\\215 -3.0\\220 -2.9\\224 -2.6\\228 -2.8\\232 -3.5\\
236 -3.7\\240 -3.4\\244 -3.1\\248 -2.8\\250 -3.1\\254 -4.0\\257 -4.4\\260 -4.0\\263 -3.9\\266 -4.1\\
269 -3.6\\273 -2.6\\277 -2.3\\281 -2.6\\286 -2.5\\290 -2.1\\294 -2.2\\298 -2.6\\302 -2.6\\306 -2.4\\
310 -2.4\\314 -2.6\\318 -2.8\\322 -3.0\\327 -2.8\\331 -2.2\\335 -1.8\\337 -1.6\\340 -1.7\\344 -2.2\\
347 -2.7\\350 -3.1\\354 -3.1\\358 -2.9\\362 -2.9\\366 -3.2\\370 -3.3\\374 -3.1\\378 -2.8\\382 -2.5\\
386 -2.1\\391 -1.7\\395 -1.6\\399 -1.9\\403 -2.2\\407 -2.4\\411 -2.7\\415 -2.9\\419 -2.8\\423 -2.2\\
427 -2.2\\432 -2.6\\437 -2.4\\440 -1.7\\443 -1.6\\447 -2.2\\450 -2.6\\454 -2.8\\458 -3.0\\462 -3.2\\
466 -3.5\\470 -3.8\\474 -3.6\\478 -3.0\\483 -2.6\\487 -2.2\\491 -2.2\\495 -2.4\\499 -2.3\\503 -1.9\\
507 -1.8\\511 -2.1\\515 -2.1\\519 -1.7\\524 -1.7\\528 -2.2\\532 -2.6\\536 -2.9\\540 -3.3\\543 -3.7\\
547 -3.4\\552 -2.5\\557 -2.1\\561 -2.3\\565 -2.4\\569 -2.6\\573 -3.0\\577 -3.5\\581 -3.6\\585 -3.2\\
589 -3.1\\594 -3.5\\598 -3.3\\602 -2.6\\606 -2.4\\610 -2.8\\614 -2.8\\618 -2.6\\622 -2.4\\627 -2.2\\
631 -2.2\\635 -2.6\\638 -2.5\\642 -2.0\\645 -1.5\\648 -1.1\\651 -1.1\\654 -1.3\\658 -1.6\\662 -1.9\\
666 -2.4\\669 -3.1\\672 -3.5\\674 -3.7\\677 -3.5\\681 -2.9\\684 -2.7\\688 -3.0\\692 -2.9\\696 -2.6\\
700 -2.4\\705 -2.2\\709 -2.2\\713 -2.6\\717 -2.6\\721 -2.3\\725 -2.0\\729 -1.8\\733 -1.7\\738 -1.7\\
742 -1.8\\746 -1.9\\
}\tDSz

\begin{document}
\begin{tikzpicture}
\useasboundingbox (0,0) rectangle (608.5pt,590pt);

% ================= row 1: positions (no x tick labels) =================
\begin{axis}[rootaxis, at={(41pt,429.5pt)}, height=114pt,
  xtick=\empty, minor xtick={100,120,...,740},
  ymin=-0.05307, ymax=-0.04421,
  ytick={-0.053,-0.052,-0.051,-0.05,-0.049,-0.048,-0.047,-0.046,-0.045},
  ylabel={X position (mm)}]
\addplot[bluep=3.9pt] table[x=x,y=y]{\tXb};
\addplot[redp=2.8pt] table[x=x,y=y]{\tXr};
\end{axis}

\begin{axis}[rootaxis, at={(230pt,429.5pt)}, height=114pt,
  xtick=\empty, minor xtick={100,120,...,740},
  ymin=1.08, ymax=1.0895,
  ytick={1.08,1.081,1.082,1.083,1.084,1.085,1.086,1.087,1.088,1.089},
  ylabel={Y position (mm)}]
\addplot[bluep=5pt] table[x=x,y=y]{\tYb};
\addplot[redp=3.4pt] table[x=x,y=y]{\tYr};
\end{axis}

\begin{axis}[rootaxis, at={(418.5pt,429.5pt)}, height=114pt,
  xtick=\empty, minor xtick={100,120,...,740},
  ymin=-5.67, ymax=-1.1,
  ytick={-5.5,-5,-4.5,-4,-3.5,-3,-2.5,-2,-1.5},
  ylabel={Z position (mm)}]
\addplot[bluep=10.5pt] table[x=x,y=y]{\tZbA};
\addplot[bluep=13pt] table[x=x,y=y]{\tZbB};
\addplot[bluep=17pt] table[x=x,y=y]{\tZbC};
\addplot[redp=7pt] table[x=x,y=y]{\tZr};
\end{axis}

% ================= row 2: position differences =================
\begin{axis}[rootaxis, lumi, at={(41pt,322pt)}, height=96.5pt,
  ymin=-0.0019, ymax=0.00234,
  ytick={-0.0015,-0.001,-0.0005,0,0.0005,0.001,0.0015,0.002},
  ylabel={Δ(x) (mm)}]
\addplot[blackp=6.5pt] table[x=x,y=y]{\tDx};
\end{axis}

\begin{axis}[rootaxis, lumi, at={(230pt,322pt)}, height=96.5pt,
  ymin=-0.00189, ymax=0.00279,
  ytick={-0.0015,-0.001,-0.0005,0,0.0005,0.001,0.0015,0.002,0.0025},
  ylabel={Δ(y) (mm)}]
\addplot[blackp=7.5pt] table[x=x,y=y]{\tDy};
\end{axis}

\begin{axis}[rootaxis, lumi, at={(418.5pt,322pt)}, height=96.5pt,
  ymin=-2.48, ymax=3.06,
  ytick={-2,-1,0,1,2,3},
  ylabel={Δ(\textit{z}) (mm)}]
\addplot[blackp=8.3pt] table[x=x,y=y]{\tDz};
\end{axis}

% ================= row 3: sizes (no x tick labels) =================
\begin{axis}[rootaxis, at={(41pt,167pt)}, height=115.5pt,
  xtick=\empty, minor xtick={100,120,...,740},
  ymin=0.0217, ymax=0.03307,
  ytick={0.022,0.024,0.026,0.028,0.03,0.032},
  ylabel={σ\textsubscript{x} (mm)}]
\addplot[bluep=4pt] table[x=x,y=y]{\tSXb};
\addplot[redp=3.2pt] table[x=x,y=y]{\tSXr};
\addplot[redp=28.4pt] coordinates {(633,0.0312)};
\end{axis}

\begin{axis}[rootaxis, at={(230pt,167pt)}, height=115.5pt,
  xtick=\empty, minor xtick={100,120,...,740},
  ymin=0.02182, ymax=0.02787,
  ytick={0.022,0.023,0.024,0.025,0.026,0.027},
  ylabel={σ\textsubscript{y} (mm)}]
\addplot[bluep=6.5pt] table[x=x,y=y]{\tSYb};
\addplot[redp=5.5pt] table[x=x,y=y]{\tSYr};
\addplot[redp=51.5pt] coordinates {(630,0.0246)};
\end{axis}

\begin{axis}[rootaxis, at={(418.5pt,167pt)}, height=115.5pt,
  xtick=\empty, minor xtick={100,120,...,740},
  ymin=48.77, ymax=63.48,
  ytick={50,52,54,56,58,60,62},
  ylabel={σ\textsubscript{z} (mm)}]
\addplot[bluep=5pt] table[x=x,y=y]{\tSZb};
\addplot[redp=3.4pt] table[x=x,y=y]{\tSZr};
\end{axis}

% ================= row 4: size differences =================
\begin{axis}[rootaxis, lumi, at={(41pt,59.5pt)}, height=98.5pt,
  ymin=-0.007, ymax=0.00242,
  ytick={-0.006,-0.005,-0.004,-0.003,-0.002,-0.001,0,0.001,0.002},
  ylabel={Δ(σ\textsubscript{x}) (mm)}]
\addplot[blackp=4pt] table[x=x,y=y]{\tDSx};
\addplot[blackp=29.3pt] coordinates {(634,-0.0034)};
\end{axis}

\begin{axis}[rootaxis, lumi, at={(230pt,59.5pt)}, height=98.5pt,
  ymin=-0.00462, ymax=0.00494,
  ytick={-0.004,-0.003,-0.002,-0.001,0,0.001,0.002,0.003,0.004},
  ylabel={Δ(σ\textsubscript{y}) (mm)}]
\addplot[blackp=4.5pt] table[x=x,y=y]{\tDSy};
\addplot[blackp=28.8pt] coordinates {(633,0.00142)};
\end{axis}

\begin{axis}[rootaxis, lumi, at={(418.5pt,59.5pt)}, height=98.5pt,
  ymin=-5.6, ymax=0.004,
  ytick={-5,-4,-3,-2,-1},
  ylabel={Δ(σ\textsubscript{z}) (mm)}]
\addplot[blackp=6.5pt] table[x=x,y=y]{\tDSz};
\end{axis}

% ================= outer labels =================
\begin{scope}[every node/.style={inner sep=0pt}]
\node[anchor=base, font=\fontsize{24}{28}\selectfont\bfseries] at (111pt,569pt) {horizontal (\textit{x})};
\node[anchor=base, font=\fontsize{24}{28}\selectfont\bfseries] at (302.5pt,569pt) {vertical (\textit{y})};
\node[anchor=base, font=\fontsize{24}{28}\selectfont\bfseries] at (488pt,569pt) {longitudinal (\textit{z})};
\node[rotate=-90, font=\fontsize{24}{28}\selectfont\bfseries] at (592.5pt,445pt) {positions};
\node[rotate=-90, font=\fontsize{24}{28}\selectfont\bfseries] at (594pt,181.5pt) {sizes};
\node[anchor=base, font=\fontsize{26}{28}\selectfont\bfseries\itshape] at (109.5pt,7.5pt) {σ\textsubscript{x}};
\node[anchor=base, font=\fontsize{26}{28}\selectfont\bfseries\itshape] at (301pt,7.5pt) {σ\textsubscript{y}};
\node[anchor=base, font=\fontsize{26}{28}\selectfont\bfseries\itshape] at (486.5pt,7.5pt) {σ\textsubscript{z}};
\node[anchor=base east, font=\fontsize{28}{30}\selectfont] at (23.5pt,186pt) {nt};
\node[anchor=base west, font=\fontsize{24}{28}\selectfont\bfseries] at (0pt,580pt) {,};
\end{scope}
\end{tikzpicture}
\end{document}
